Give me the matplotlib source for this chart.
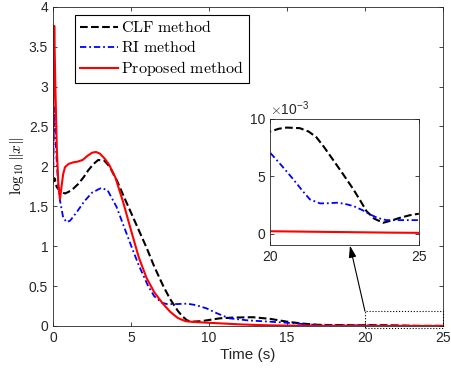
import matplotlib
matplotlib.use('Agg')
import matplotlib.pyplot as plt
import numpy as np
from matplotlib.patches import Rectangle

plt.rcParams['font.family'] = 'Liberation Sans'
plt.rcParams['mathtext.fontset'] = 'cm'

# time / value knots
t_clf = [0, 0.1, 0.24, 0.5, 0.77, 1.0, 1.3, 1.62, 1.95, 2.26, 2.6, 2.9, 3.3, 3.65, 4.1, 4.5, 5.0,
         5.5, 6.0, 6.5, 7.07, 7.5, 8.0, 8.3, 8.6, 8.9, 9.5, 10.0, 10.7, 11.5, 12.8, 13.9, 15.0,
         16, 17, 18, 19, 20, 20.3, 20.56, 21, 21.3, 21.56, 21.8, 22.1, 22.45, 22.8, 23.05,
         23.24, 23.5, 23.8, 24.1, 24.36, 24.7, 25]
v_clf = [1.8, 1.85, 1.74, 1.68, 1.66, 1.68, 1.72, 1.78, 1.86, 1.95, 2.03, 2.08, 2.07, 1.99, 1.82,
         1.64, 1.42, 1.2, 0.98, 0.74, 0.5, 0.34, 0.19, 0.12, 0.07, 0.054, 0.06, 0.075, 0.096,
         0.105, 0.11, 0.09, 0.054, 0.03, 0.015, 0.011, 0.0095, 0.0089, 0.00915, 0.00925,
         0.0092, 0.0089, 0.0084, 0.0076, 0.0065, 0.0052, 0.00386, 0.0028, 0.00196, 0.0013,
         0.00094, 0.00115, 0.00137, 0.0016, 0.00173]

t_ri = [0, 0.04, 0.08, 0.2, 0.32, 0.45, 0.65, 0.88, 1.1, 1.5, 2.0, 2.5, 3.1, 3.5, 4.08, 4.5, 5.04,
        5.5, 6.1, 6.5, 7.0, 7.3, 8.0, 8.6, 9.2, 9.85, 10.5, 11.3, 12.5, 13.9, 15, 16, 17, 18,
        19, 20, 20.4, 20.78, 21.1, 21.34, 21.68, 22.0, 22.24, 22.5, 22.8, 23.1, 23.36, 23.6,
        23.9, 24.4, 25]
v_ri = [1.8, 2.3, 2.75, 2.2, 1.8, 1.57, 1.36, 1.30, 1.32, 1.42, 1.56, 1.67, 1.73, 1.70, 1.49,
        1.27, 0.99, 0.76, 0.5, 0.37, 0.29, 0.275, 0.275, 0.28, 0.26, 0.22, 0.16, 0.096, 0.07,
        0.054, 0.04, 0.025, 0.012, 0.009, 0.008, 0.00707, 0.0059, 0.00474, 0.0037, 0.00298,
        0.00263, 0.00265, 0.00269, 0.0026, 0.0024, 0.00205, 0.00167, 0.00138, 0.00117,
        0.00117, 0.00117]

t_prop = [0, 0.04, 0.08, 0.15, 0.25, 0.35, 0.45, 0.55, 0.65, 0.77, 1.0, 1.3, 1.6, 1.9, 2.2,
          2.5, 2.75, 3.0, 3.3, 3.6, 4.0, 4.5, 5.0, 5.5, 6.0, 6.5, 7.0, 7.5, 8.0, 8.5, 9.0, 10,
          11, 12, 13, 14, 15, 16, 17, 18, 19, 20, 21, 22, 23, 24, 25]
v_prop = [1.8, 3.2, 3.76, 3.0, 2.2, 1.75, 1.59, 1.75, 1.9, 1.99, 2.03, 2.05, 2.06, 2.08, 2.13,
          2.17, 2.18, 2.16, 2.10, 2.02, 1.86, 1.55, 1.2, 0.86, 0.6, 0.42, 0.29, 0.18, 0.1,
          0.06, 0.05, 0.04, 0.03, 0.02, 0.013, 0.008, 0.005, 0.003, 0.002, 0.001, 0.0005,
          0.0002, 0.00017, 0.00014, 0.00011, 0.00008, 0.00006]

labels = [r'$\mathrm{CLF\ method}$', r'$\mathrm{RI\ method}$', r'$\mathrm{Proposed\ method}$']

grey = '0.15'
dashdot = (0, (3.5, 1.6, 1.0, 1.6))

fig = plt.figure(figsize=(4.51, 3.75), dpi=100)
ax = fig.add_axes([0.1175, 0.1307, 0.8647, 0.8515])

ax.plot(t_clf, v_clf, 'k--', lw=1.5, label=labels[0])
ax.plot(t_ri, v_ri, color='b', ls=dashdot, lw=1.3, label=labels[1])
ax.plot(t_prop, v_prop, color='r', ls='-', lw=1.5, label=labels[2])

ax.set_xlim(0, 25)
ax.set_ylim(0, 4)
ax.set_xticks([0, 5, 10, 15, 20, 25])
ax.set_yticks(np.arange(0, 4.01, 0.5))
ax.set_yticklabels(['0', '0.5', '1', '1.5', '2', '2.5', '3', '3.5', '4'])
ax.tick_params(direction='in', top=True, right=True, length=3, width=0.6,
               labelsize=10, colors=grey, labelcolor=grey)
for s in ax.spines.values():
    s.set_color(grey)
    s.set_linewidth(0.6)
ax.set_xlabel('Time (s)', fontsize=11, color=grey, labelpad=2)
ax.set_ylabel(r'$\log_{10}\|x\|$', fontsize=11, color='k', labelpad=2)

leg = ax.legend(loc='upper left', bbox_to_anchor=(0.056, 0.975), fontsize=11.5,
                fancybox=False, framealpha=1, edgecolor='k', handlelength=2.4,
                handletextpad=0.2, labelspacing=0.25, borderpad=0.3, borderaxespad=0)
leg.get_frame().set_linewidth(0.8)

# zoom box
ax.add_patch(Rectangle((20, -0.02), 5, 0.205, fill=False, ls=':', lw=0.8,
                       ec='k', clip_on=False, zorder=5))

# inset
axins = fig.add_axes([0.5987, 0.3467, 0.330, 0.336])
axins.plot(t_clf, np.array(v_clf) * 1e3, 'k--', lw=1.5)
axins.plot(t_ri, np.array(v_ri) * 1e3, color='b', ls=dashdot, lw=1.3)
axins.plot(t_prop, np.array(v_prop) * 1e3, color='r', ls='-', lw=1.5)
axins.set_xlim(20, 25)
axins.set_ylim(-1, 10)
axins.set_xticks([20, 25])
axins.set_yticks([0, 5, 10])
axins.tick_params(direction='in', top=True, right=True, length=3, width=0.6,
                  labelsize=10, colors=grey, labelcolor=grey)
for s in axins.spines.values():
    s.set_color(grey)
    s.set_linewidth(0.6)
axins.text(0.0, 1.01, r'$\times\mathregular{10^{-3}}$', transform=axins.transAxes,
           fontsize=10, color=grey, va='bottom', ha='left')

axins.annotate('', xy=(0.537, -0.005), xycoords='axes fraction',
               xytext=(20, 0.185), textcoords=ax.transData,
               arrowprops=dict(arrowstyle='-|>,head_length=0.7,head_width=0.22',
                               color='k', lw=0.8, shrinkA=0, shrinkB=0),
               annotation_clip=False)

fig.savefig('out.png', dpi=100)
